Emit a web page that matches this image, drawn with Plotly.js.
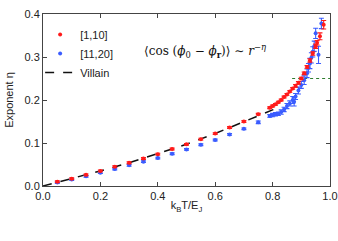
<!DOCTYPE html>
<html>
<head>
<meta charset="utf-8">
<script src="https://cdn.plot.ly/plotly-3.0.1.min.js"></script>
<style>html,body{margin:0;padding:0;background:#fff;}#chart{width:338px;height:241px;}</style>
</head>
<body>
<div id="chart"></div>
<script>
// [1,10] series
const redX = [0.05,0.10,0.15,0.20,0.25,0.30,0.35,0.40,0.45,0.50,0.55,0.60,0.65,0.70,0.75,
  0.79,0.80,0.81,0.82,0.83,0.84,0.85,0.86,0.87,0.88,0.89,0.90,0.91,0.92,0.93,0.94,0.95,0.955,0.965,0.978];
const redY = [0.010,0.017,0.026,0.035,0.045,0.054,0.064,0.074,0.086,0.097,0.109,0.122,0.136,0.150,0.167,
  0.182,0.186,0.190,0.195,0.200,0.207,0.213,0.220,0.227,0.233,0.240,0.250,0.262,0.277,0.292,0.308,0.325,0.333,0.348,0.375];
const redErr = [0.002,0.002,0.002,0.002,0.002,0.002,0.002,0.002,0.002,0.002,0.002,0.002,0.002,0.002,0.002,
  0.002,0.002,0.002,0.002,0.002,0.002,0.002,0.002,0.002,0.003,0.003,0.003,0.003,0.003,0.004,0.004,0.005,0.005,0.008,0.010];
// [11,20] series
const blueX = [0.05,0.10,0.15,0.20,0.25,0.30,0.35,0.40,0.45,0.50,0.55,0.60,0.65,0.70,0.75,
  0.79,0.80,0.81,0.82,0.83,0.84,0.85,0.86,0.87,0.875,0.88,0.89,0.90,0.91,0.92,0.925,0.93,0.935,0.94,0.945,0.95,0.96,0.97];
const blueY = [0.008,0.015,0.0225,0.031,0.0395,0.048,0.0565,0.065,0.075,0.085,0.096,0.107,0.120,0.133,0.148,
  0.163,0.165,0.167,0.168,0.172,0.178,0.186,0.192,0.200,0.196,0.208,0.222,0.235,0.246,0.262,0.275,0.285,0.298,0.312,0.325,0.355,0.305,0.378];
const blueErr = [0.002,0.002,0.002,0.002,0.002,0.002,0.002,0.002,0.002,0.002,0.002,0.002,0.002,0.002,0.003,
  0.003,0.004,0.004,0.004,0.005,0.005,0.006,0.006,0.008,0.010,0.007,0.008,0.008,0.010,0.010,0.010,0.012,0.012,0.012,0.012,0.012,0.020,0.012];
// Villain approximation
const villainX = [0,0.1,0.2,0.3,0.4,0.5,0.6,0.7,0.75,0.8,0.825];
const villainY = [0,0.017,0.035,0.054,0.075,0.097,0.122,0.149,0.162,0.177,0.185];
// eta = 1/4 reference
const quarterX = [0.868,1.0];
const quarterY = [0.25,0.25];

const red = '#ff1a1a', blue = '#3a5cff';
const traces = [
  {x: villainX, y: villainY, mode:'lines', name:'Villain', line:{color:'#111', dash:'dash', width:1.5}, legendrank:3},
  {x: quarterX, y: quarterY, mode:'lines', showlegend:false, line:{color:'#2e7d2e', dash:'dot', width:1.2}},
  {x: blueX, y: blueY, mode:'markers', name:'[11,20]', marker:{color:blue, size:4},
   error_y:{type:'data', array:blueErr, visible:true, color:blue, thickness:1.1, width:2.5}, legendrank:2},
  {x: redX, y: redY, mode:'markers', name:'[1,10]', marker:{color:red, size:4},
   error_y:{type:'data', array:redErr, visible:true, color:red, thickness:1.1, width:2.5}, legendrank:1}
];
const axisCommon = {showline:true, linecolor:'#444', linewidth:1, mirror:'ticks', ticks:'inside', ticklen:4,
  tickcolor:'#444', showgrid:false, zeroline:false, tickfont:{family:'Liberation Sans, Arial', size:11, color:'#222'}};
const layout = {
  width:338, height:241, margin:{l:43, r:8, t:14, b:55},
  paper_bgcolor:'#fff', plot_bgcolor:'#fff',
  font:{family:'Liberation Sans, Arial', size:11, color:'#222'},
  xaxis: Object.assign({}, axisCommon, {range:[0,1], dtick:0.2, tickformat:'.1f',
    title:{text:'k<sub>B</sub>T/E<sub>J</sub>', font:{size:11}, standoff:0}}),
  yaxis: Object.assign({}, axisCommon, {range:[0,0.4], dtick:0.1, tickformat:'.1f',
    title:{text:'Exponent η', font:{size:11}, standoff:8}}),
  legend:{x:-0.01, y:0.965, xanchor:'left', yanchor:'top', bgcolor:'rgba(0,0,0,0)', font:{size:11},
    traceorder:'normal', tracegroupgap:0, itemwidth:30},
  annotations:[{xref:'paper', yref:'paper', x:0.565, y:0.85, showarrow:false,
    text:'⟨cos (<i>ϕ</i><sub>0</sub> − <i>ϕ</i><sub><b>r</b></sub>)⟩ ∼ <i>r</i><sup>−<i>η</i></sup>',
    font:{family:'DejaVu Serif, Liberation Serif, serif', size:12, color:'#111'}}]
};
Plotly.newPlot('chart', traces, layout, {staticPlot:true, displayModeBar:false});
</script>
</body>
</html>
